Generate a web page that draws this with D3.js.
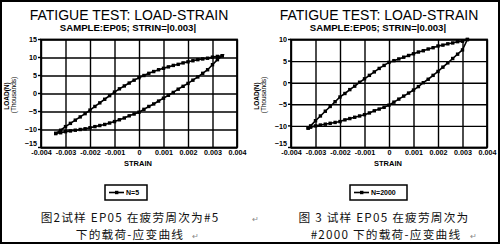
<!DOCTYPE html>
<html>
<head>
<meta charset="utf-8">
<script src="https://cdn.jsdelivr.net/npm/d3@7"></script>
<style>
  body { margin: 0; background: #fff; }
  svg { display: block; font-family: 'Liberation Sans', Arial, sans-serif; }
</style>
</head>
<body>
<svg id="chart"></svg>
<script>
var width = 500;
var height = 245;

// axis ticks
var strainTicks = [-0.004, -0.003, -0.002, -0.001, 0, 0.001, 0.002, 0.003, 0.004];
var loadTicksA = [-15, -10, -5, 0, 5, 10, 15];
var loadTicksB = [-15, -10, -5, 0, 5, 10];

// N=5 loop, loading branch (bottom-left -> top-right)
var n5UpStrain = [-0.0034, -0.0032, -0.0030, -0.0028, -0.0026, -0.0024, -0.0022, -0.0020, -0.0018, -0.0016, -0.0014, -0.0012, -0.0010, -0.0008, -0.0006, -0.0004, -0.0002, 0, 0.0002, 0.0004, 0.0006, 0.0008, 0.0010, 0.0012, 0.0014, 0.0016, 0.0018, 0.0020, 0.0022, 0.0024, 0.0026, 0.0028, 0.0030, 0.0032, 0.0034];
var n5UpLoad = [-11.1, -10.2, -9.2, -8.3, -7.4, -6.5, -5.6, -4.6, -3.6, -2.6, -1.6, -0.6, 0.4, 1.3, 2.1, 2.9, 3.7, 4.4, 5.0, 5.6, 6.1, 6.6, 7.0, 7.4, 7.8, 8.1, 8.5, 8.8, 9.1, 9.4, 9.6, 9.8, 10.1, 10.3, 10.5];
// N=5 loop, unloading branch (top-right -> bottom-left)
var n5DownStrain = [0.0034, 0.0032, 0.0030, 0.0028, 0.0026, 0.0024, 0.0022, 0.0020, 0.0018, 0.0016, 0.0014, 0.0012, 0.0010, 0.0008, 0.0006, 0.0004, 0.0002, 0, -0.0002, -0.0004, -0.0006, -0.0008, -0.0010, -0.0012, -0.0014, -0.0016, -0.0018, -0.0020, -0.0022, -0.0024, -0.0026, -0.0028, -0.0030, -0.0032, -0.0034];
var n5DownLoad = [10.5, 9.4, 8.0, 6.6, 5.6, 4.6, 3.7, 2.8, 2.0, 1.2, 0.3, -0.5, -1.3, -2.1, -2.9, -3.6, -4.4, -5.2, -5.7, -6.2, -6.8, -7.3, -7.8, -8.2, -8.6, -8.9, -9.2, -9.5, -9.8, -10.0, -10.2, -10.4, -10.6, -10.9, -11.1];

// N=2000 loop
var n2000UpStrain = [-0.0033, -0.0032, -0.0030, -0.0028, -0.0026, -0.0024, -0.0022, -0.0020, -0.0018, -0.0016, -0.0014, -0.0012, -0.0010, -0.0008, -0.0006, -0.0004, -0.0002, 0, 0.0002, 0.0004, 0.0006, 0.0008, 0.0010, 0.0012, 0.0014, 0.0016, 0.0018, 0.0020, 0.0022, 0.0024, 0.0026, 0.0028, 0.0030, 0.0032];
var n2000UpLoad = [-10.5, -10.0, -8.8, -7.7, -6.6, -5.5, -4.4, -3.3, -2.5, -1.6, -0.8, 0.1, 0.9, 1.7, 2.5, 3.3, 4.0, 4.7, 5.1, 5.5, 5.9, 6.3, 6.7, 7.1, 7.4, 7.8, 8.1, 8.5, 8.7, 9.0, 9.2, 9.5, 9.6, 10.0];
var n2000DownStrain = [0.0032, 0.0030, 0.0028, 0.0026, 0.0024, 0.0022, 0.0020, 0.0018, 0.0016, 0.0014, 0.0012, 0.0010, 0.0008, 0.0006, 0.0004, 0.0002, 0, -0.0002, -0.0004, -0.0006, -0.0008, -0.0010, -0.0012, -0.0014, -0.0016, -0.0018, -0.0020, -0.0022, -0.0024, -0.0026, -0.0028, -0.0030, -0.0032, -0.0033];
var n2000DownLoad = [10.0, 7.6, 6.6, 5.6, 4.6, 3.6, 2.6, 1.7, 0.8, 0.0, -0.9, -1.7, -2.4, -3.1, -3.8, -4.5, -5.2, -5.7, -6.1, -6.5, -7.0, -7.4, -7.7, -8.0, -8.3, -8.6, -9.0, -9.2, -9.4, -9.6, -9.8, -10.0, -10.3, -10.5];

var svg = d3.select('#chart').attr('width', width).attr('height', height);

svg.append('rect')
  .attr('x', 1).attr('y', 1)
  .attr('width', width - 2).attr('height', height - 3)
  .attr('fill', 'none')
  .attr('stroke', '#000')
  .attr('stroke-width', 2);

function zip(xs, ys) {
  return xs.map(function (x, i) { return [x, ys[i]]; });
}

function drawPanel(offset, loadTicks, up, down, legendLabel, legendX, legendW, captions) {
  var g = svg.append('g').attr('transform', 'translate(' + offset + ',0)');

  var xScale = d3.scaleLinear().domain([-0.004, 0.004]).range([41, 237]);
  var yScale = d3.scaleLinear()
    .domain(d3.extent(loadTicks))
    .range([147.5, 39.5]);

  // titles
  g.append('text')
    .attr('x', 129).attr('y', 19.5)
    .attr('text-anchor', 'middle')
    .attr('font-size', 14)
    .text('FATIGUE TEST: LOAD-STRAIN');
  g.append('text')
    .attr('x', 128).attr('y', 31)
    .attr('text-anchor', 'middle')
    .attr('font-size', 9.6)
    .attr('font-weight', 'bold')
    .text('SAMPLE:EP05; STRIN=|0.003|');

  // grid
  var xAxis = d3.axisBottom(xScale)
    .tickValues(strainTicks)
    .tickSize(-(yScale.range()[0] - yScale.range()[1]))
    .tickSizeOuter(0)
    .tickPadding(3)
    .tickFormat(function (d) { return d === 0 ? '0' : d.toFixed(3); });
  var yAxis = d3.axisLeft(yScale)
    .tickValues(loadTicks)
    .tickSize(-(xScale.range()[1] - xScale.range()[0]))
    .tickSizeOuter(0)
    .tickPadding(4);

  var gx = g.append('g')
    .attr('transform', 'translate(0,' + yScale.range()[0] + ')')
    .call(xAxis);
  var gy = g.append('g')
    .attr('transform', 'translate(' + xScale.range()[0] + ',0)')
    .call(yAxis);
  [gx, gy].forEach(function (a) {
    a.select('.domain').remove();
    a.selectAll('line').attr('stroke', '#000').attr('stroke-width', 1.4);
    a.selectAll('text')
      .attr('fill', '#000')
      .attr('font-size', 7.2)
      .attr('font-weight', 'bold')
      .attr('font-family', "'Liberation Sans', Arial, sans-serif");
  });
  gx.selectAll('text').attr('dy', '0.65em');
  gy.selectAll('text').attr('dy', function (d) { return d === loadTicks[0] ? '-0.25em' : '0.32em'; });

  // small outer tick stubs
  g.append('g').selectAll('line')
    .data(loadTicks).enter().append('line')
    .attr('x1', xScale.range()[0] - 3).attr('x2', xScale.range()[0])
    .attr('y1', function (d) { return yScale(d); })
    .attr('y2', function (d) { return yScale(d); })
    .attr('stroke', '#000').attr('stroke-width', 1.4);

  // frame
  g.append('rect')
    .attr('x', xScale.range()[0]).attr('y', yScale.range()[1])
    .attr('width', xScale.range()[1] - xScale.range()[0])
    .attr('height', yScale.range()[0] - yScale.range()[1])
    .attr('fill', 'none')
    .attr('stroke', '#000')
    .attr('stroke-width', 1.8);

  // axis titles
  g.append('text')
    .attr('x', 138).attr('y', 166)
    .attr('text-anchor', 'middle')
    .attr('font-size', 7.5)
    .attr('font-weight', 'bold')
    .text('STRAIN');
  g.append('text')
    .attr('transform', 'translate(9,96) rotate(-90)')
    .attr('text-anchor', 'middle')
    .attr('font-size', 6.5)
    .attr('font-weight', 'bold')
    .text('LOAD(N)');
  g.append('text')
    .attr('transform', 'translate(16,95) rotate(-90)')
    .attr('text-anchor', 'middle')
    .attr('font-size', 6.5)
    .text('(Thousands)');

  // loop
  var pts = up.concat(down);
  var line = d3.line()
    .x(function (d) { return xScale(d[0]); })
    .y(function (d) { return yScale(d[1]); });
  g.append('path')
    .datum(pts)
    .attr('d', line)
    .attr('fill', 'none')
    .attr('stroke', '#000')
    .attr('stroke-width', 1.6);
  g.append('g').selectAll('rect')
    .data(pts).enter().append('rect')
    .attr('x', function (d) { return xScale(d[0]) - 1.7; })
    .attr('y', function (d) { return yScale(d[1]) - 1.7; })
    .attr('width', 3.4).attr('height', 3.4)
    .attr('fill', '#000');

  // legend
  var lg = g.append('g').attr('transform', 'translate(' + legendX + ',185)');
  lg.append('rect')
    .attr('x', 0).attr('y', 0)
    .attr('width', legendW).attr('height', 15)
    .attr('fill', '#fff')
    .attr('stroke', '#000')
    .attr('stroke-width', 1.5);
  lg.append('line')
    .attr('x1', 4).attr('x2', 19)
    .attr('y1', 7.5).attr('y2', 7.5)
    .attr('stroke', '#000').attr('stroke-width', 1.6);
  lg.append('rect')
    .attr('x', 10).attr('y', 5.8)
    .attr('width', 3.4).attr('height', 3.4)
    .attr('fill', '#000');
  lg.append('text')
    .attr('x', 21).attr('y', 10.3)
    .attr('font-size', 7)
    .attr('font-weight', 'bold')
    .text(legendLabel);

  // caption
  captions.forEach(function (c, i) {
    g.append('text')
      .attr('x', c.x).attr('y', 222 + i * 17)
      .attr('text-anchor', 'middle')
      .attr('font-family', "'Noto Sans CJK SC', sans-serif")
      .attr('font-size', 11.7)
      .attr('letter-spacing', 1.2)
      .attr('fill', '#111')
      .text(c.text);
  });
}

drawPanel(0, loadTicksA, zip(n5UpStrain, n5UpLoad), zip(n5DownStrain, n5DownLoad),
  'N=5', 105, 42,
  [{ x: 130, text: '图2试样 EP05 在疲劳周次为#5' }, { x: 130, text: '下的载荷-应变曲线' }]);

drawPanel(250, loadTicksB, zip(n2000UpStrain, n2000UpLoad), zip(n2000DownStrain, n2000DownLoad),
  'N=2000', 100, 57,
  [{ x: 134, text: '图 3 试样 EP05 在疲劳周次为' }, { x: 136, text: '#2000 下的载荷-应变曲线' }]);

// paragraph marks
var marks = [[252, 222], [192, 239], [470, 239]];
svg.selectAll('.pmark')
  .data(marks).enter().append('text')
  .attr('class', 'pmark')
  .attr('x', function (d) { return d[0]; })
  .attr('y', function (d) { return d[1]; })
  .attr('font-size', 8)
  .attr('fill', '#888')
  .text('\u21B5');
</script>
</body>
</html>
